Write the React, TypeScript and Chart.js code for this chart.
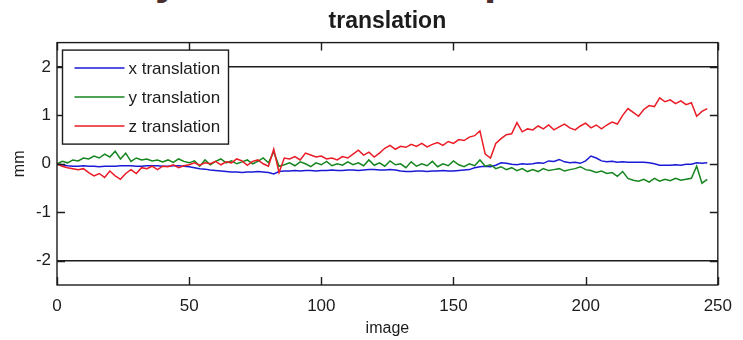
import { useEffect, useRef } from "react";
import { Chart, registerables } from "chart.js";

Chart.register(...registerables);

// Image index at which each sample was read
const images = [
  0, 2, 4, 6, 8, 10, 12, 14, 16, 18, 20, 22, 24, 26, 28, 30, 32, 34, 36, 38,
  40, 42, 44, 46, 48, 50, 52, 54, 56, 58, 60, 62, 64, 66, 68, 70, 72, 74, 76, 78,
  80, 82, 84, 86, 88, 90, 92, 94, 96, 98, 100, 102, 104, 106, 108, 110, 112, 114, 116, 118,
  120, 122, 124, 126, 128, 130, 132, 134, 136, 138, 140, 142, 144, 146, 148, 150, 152, 154, 156, 158,
  160, 162, 164, 166, 168, 170, 172, 174, 176, 178, 180, 182, 184, 186, 188, 190, 192, 194, 196, 198,
  200, 202, 204, 206, 208, 210, 212, 214, 216, 218, 220, 222, 224, 226, 228, 230, 232, 234, 236, 238,
  240, 242, 244, 246,
];

// Translations in mm
const xTranslation = [
  0, -0.02, -0.04, -0.05, -0.05, -0.04, -0.05, -0.05, -0.06, -0.05,
  -0.05, -0.05, -0.04, -0.04, -0.04, -0.05, -0.05, -0.04, -0.04, -0.04,
  -0.05, -0.05, -0.04, -0.04, -0.05, -0.06, -0.08, -0.1, -0.11, -0.13,
  -0.14, -0.15, -0.16, -0.17, -0.17, -0.18, -0.17, -0.17, -0.16, -0.17,
  -0.18, -0.21, -0.16, -0.15, -0.15, -0.14, -0.15, -0.14, -0.14, -0.15,
  -0.14, -0.14, -0.13, -0.14, -0.14, -0.13, -0.13, -0.14, -0.13, -0.12,
  -0.12, -0.13, -0.13, -0.12, -0.13, -0.15, -0.16, -0.16, -0.15, -0.15,
  -0.16, -0.15, -0.15, -0.14, -0.15, -0.15, -0.14, -0.13, -0.12, -0.08,
  -0.06, -0.05, -0.06, -0.03, 0.02, 0.01, -0.01, -0.02, 0, -0.01,
  0, 0.02, 0.01, 0.06, 0.05, 0.09, 0.04, 0.02, 0.03, 0.01,
  0.06, 0.16, 0.12, 0.06, 0.04, 0.05, 0.03, 0.04, 0.03, 0.03,
  0.03, 0.03, 0.02, 0, -0.03, -0.03, -0.03, -0.02, -0.03, -0.01,
  -0.01, 0.02, 0.01, 0.02,
];

const yTranslation = [
  0, 0.05, 0.02, 0.08, 0.06, 0.12, 0.1, 0.16, 0.12, 0.2,
  0.14, 0.26, 0.1, 0.22, 0.05, 0.12, 0.08, 0.1, 0.06, 0.08,
  0.04, 0.08, 0.03, 0.1, 0.05, 0.02, 0.06, -0.05, 0.08, -0.02,
  0.05, 0.1, 0.02, 0.06, 0, 0.04, 0.08, 0, 0.05, 0.12,
  0.02, 0.25, -0.05, -0.02, 0.02, -0.04, 0.04, 0, -0.06, 0.02,
  -0.02, 0.05, -0.04, 0, -0.03, 0.04, -0.02, 0.02, -0.04, 0.08,
  -0.03, 0.02, -0.05, 0.06, -0.02, 0, -0.08, 0.04, -0.05, 0,
  -0.04, 0.05, -0.06, 0, -0.04, 0.06, -0.02, -0.06, 0, -0.04,
  0.08, -0.05, -0.02, -0.1, -0.06, -0.12, -0.08, -0.14, -0.1, -0.16,
  -0.12, -0.16, -0.1, -0.14, -0.12, -0.1, -0.15, -0.12, -0.1, -0.06,
  -0.12, -0.14, -0.18, -0.15, -0.2, -0.18, -0.26, -0.16, -0.3, -0.34,
  -0.36, -0.32, -0.38, -0.3, -0.36, -0.32, -0.35, -0.3, -0.34, -0.32,
  -0.3, -0.05, -0.4, -0.32,
];

const zTranslation = [
  0, -0.05, -0.08, -0.1, -0.12, -0.1, -0.18, -0.25, -0.2, -0.28,
  -0.15, -0.25, -0.32, -0.2, -0.12, -0.2, -0.08, -0.1, -0.05, -0.12,
  -0.05, -0.06, -0.02, -0.08, -0.04, -0.02, 0.02, -0.03, 0.02, 0,
  0.05, -0.02, 0.04, 0.02, 0.1, 0.06, -0.03, 0.05, 0.08, 0,
  -0.05, 0.3, -0.18, 0.12, 0.1, 0.15, 0.08, 0.22, 0.18, 0.14,
  0.16, 0.1, 0.12, 0.08, 0.15, 0.12, 0.2, 0.28, 0.18, 0.24,
  0.14, 0.22, 0.32, 0.38, 0.3, 0.36, 0.34, 0.4, 0.36, 0.42,
  0.35, 0.4, 0.44, 0.38, 0.46, 0.42, 0.5, 0.48, 0.55, 0.58,
  0.68, 0.2, 0.12, 0.42, 0.52, 0.6, 0.62, 0.85, 0.66, 0.72,
  0.7, 0.78, 0.72, 0.8, 0.7, 0.76, 0.82, 0.74, 0.7, 0.78,
  0.84, 0.74, 0.8, 0.72, 0.8, 0.86, 0.82, 1.0, 1.14, 1.06,
  0.98, 1.12, 1.2, 1.18, 1.36, 1.28, 1.32, 1.24, 1.3, 1.22,
  1.26, 0.98, 1.08, 1.14,
];

const seriesNames = ["x translation", "y translation", "z translation"];
const seriesColors = ["#1a1ad6", "#15861f", "#ea1b25"];

const xTickValues = [0, 50, 100, 150, 200, 250];
const yTickValues = [-2, -1, 0, 1, 2];

const FONT = "'Liberation Sans', Arial, Helvetica, sans-serif";
const INK = "#1c1c1c";

// Box frame with inward tick marks, plus the boxed legend in the upper left
const framePlugin = {
  id: "matlabFrame",
  afterDraw(chart: any) {
    const { ctx, chartArea: a, scales } = chart;
    ctx.save();
    ctx.strokeStyle = INK;
    ctx.lineWidth = 1.4;
    ctx.strokeRect(a.left, a.top, a.right - a.left, a.bottom - a.top);

    const len = 8;
    ctx.beginPath();
    for (const v of xTickValues) {
      const px = Math.round(scales.x.getPixelForValue(v)) + 0.5;
      ctx.moveTo(px, a.bottom);
      ctx.lineTo(px, a.bottom - len);
      ctx.moveTo(px, a.top);
      ctx.lineTo(px, a.top + len);
    }
    for (const v of yTickValues) {
      const py = Math.round(scales.y.getPixelForValue(v)) + 0.5;
      ctx.moveTo(a.left, py);
      ctx.lineTo(a.left + len, py);
      ctx.moveTo(a.right, py);
      ctx.lineTo(a.right - len, py);
    }
    ctx.stroke();

    // legend
    const bx = a.left + 5.5;
    const by = a.top + 7.5;
    const bw = 166;
    const bh = 94;
    ctx.fillStyle = "#ffffff";
    ctx.fillRect(bx, by, bw, bh);
    ctx.strokeRect(bx, by, bw, bh);
    ctx.font = `17px ${FONT}`;
    ctx.textBaseline = "middle";
    ctx.textAlign = "left";
    chart.data.datasets.forEach((ds: any, i: number) => {
      const y = by + 18 + i * 29;
      ctx.strokeStyle = ds.borderColor;
      ctx.lineWidth = 1.5;
      ctx.beginPath();
      ctx.moveTo(bx + 12, y);
      ctx.lineTo(bx + 62, y);
      ctx.stroke();
      ctx.fillStyle = INK;
      ctx.fillText(ds.label, bx + 66, y + 1);
    });
    ctx.restore();
  },
};

export default function App() {
  const canvasRef = useRef<HTMLCanvasElement | null>(null);

  useEffect(() => {
    const canvas = canvasRef.current;
    if (!canvas) return;
    const series = [xTranslation, yTranslation, zTranslation];
    const chart = new Chart(canvas, {
      type: "line",
      data: {
        datasets: series.map((values, i) => ({
          label: seriesNames[i],
          data: images.map((img, k) => ({ x: img, y: values[k] })),
          borderColor: seriesColors[i],
          backgroundColor: seriesColors[i],
          borderWidth: 1.5,
          pointRadius: 0,
          tension: 0,
          fill: false,
          order: 2 - i,
        })),
      },
      options: {
        responsive: false,
        animation: false,
        devicePixelRatio: 1,
        layout: { padding: { left: 0, right: 15, top: 0, bottom: 0 } },
        plugins: {
          legend: { display: false },
          tooltip: { enabled: false },
          title: {
            display: true,
            fullSize: false,
            text: "translation",
            color: INK,
            font: { family: FONT, size: 23, weight: "bold" },
            padding: { top: 8, bottom: 7 },
          },
        },
        scales: {
          x: {
            type: "linear",
            min: 0,
            max: 250,
            afterBuildTicks: (s: any) => {
              s.ticks = xTickValues.map((v) => ({ value: v }));
            },
            afterFit: (s: any) => {
              s.height = 55;
            },
            grid: { display: false, drawTicks: false },
            border: { display: false },
            ticks: {
              color: INK,
              font: { family: FONT, size: 17 },
              padding: 11,
              maxRotation: 0,
            },
            title: {
              display: true,
              text: "image",
              color: INK,
              font: { family: FONT, size: 16 },
              padding: { top: 0, bottom: 2 },
            },
          },
          y: {
            type: "linear",
            min: -2.5,
            max: 2.5,
            afterBuildTicks: (s: any) => {
              s.ticks = yTickValues.map((v) => ({ value: v }));
            },
            afterFit: (s: any) => {
              s.width = 57;
            },
            grid: {
              drawTicks: false,
              lineWidth: 1.4,
              color: (c: any) =>
                c.tick && Math.abs(c.tick.value) === 2 ? INK : "rgba(0,0,0,0)",
            },
            border: { display: false },
            ticks: {
              color: INK,
              font: { family: FONT, size: 17 },
              padding: 6,
            },
            title: {
              display: true,
              text: "mm",
              color: INK,
              font: { family: FONT, size: 16 },
              padding: { top: 10, bottom: 0 },
            },
          },
        },
      },
      plugins: [framePlugin],
    } as any);
    return () => chart.destroy();
  }, []);

  return (
    <div
      style={{
        position: "fixed",
        left: 0,
        top: 0,
        width: 743,
        height: 340,
        background: "#ffffff",
        overflow: "hidden",
      }}
    >
      <div
        style={{
          position: "absolute",
          left: 0,
          top: -43,
          width: 743,
          height: 60,
          font: `bold 44px ${FONT}`,
          lineHeight: "44px",
          color: "#4a2e2e",
          whiteSpace: "pre",
        }}
      >
        <span style={{ position: "absolute", left: 155 }}>y</span>
        <span style={{ position: "absolute", left: 484 }}>p</span>
      </div>
      <canvas ref={canvasRef} width={743} height={340} style={{ position: "absolute", left: 0, top: 0 }} />
    </div>
  );
}
